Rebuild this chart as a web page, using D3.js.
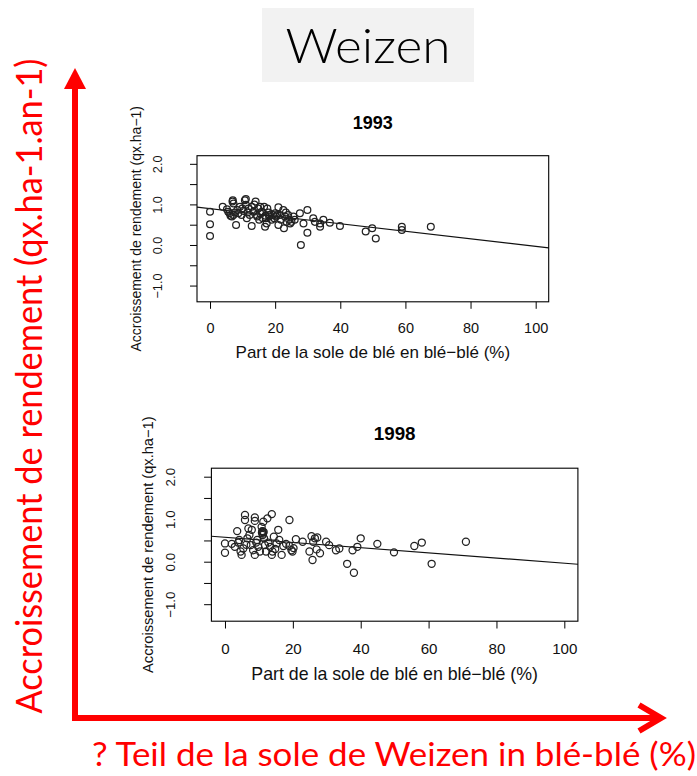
<!DOCTYPE html>
<html>
<head>
<meta charset="utf-8">
<script src="https://cdn.jsdelivr.net/npm/d3@7"></script>
<style>
  body { margin: 0; background: #fff; }
  svg { display: block; }
</style>
</head>
<body>
<div id="chart"></div>
<script>
// Points: [blé-blé share (%), yield increase]
const points1993 = [
  [0,0.82],[0,0.51],[0,0.22],
  [3.9,0.94],[5.2,0.88],[5.6,0.82],[6.0,0.78],[6.3,0.72],[6.7,0.70],[6.9,1.07],
  [7.0,1.10],[7.2,1.02],[7.2,0.74],[7.6,0.80],[8.0,0.49],[8.4,0.86],[8.7,0.78],
  [9.2,0.94],[9.7,0.74],[9.9,0.90],[10.3,0.84],[10.7,1.10],[11.0,0.99],[11.0,1.13],
  [11.3,0.66],[11.5,0.80],[11.8,0.90],[12.2,0.74],[12.8,0.94],[12.8,0.47],[13.3,0.82],
  [13.6,1.00],[14.0,1.07],[14.3,0.74],[14.5,0.70],[14.8,0.90],[15.1,0.62],[15.4,0.94],
  [15.4,0.78],[15.9,0.82],[16.2,0.66],[16.6,0.94],[16.9,0.45],[17.0,0.72],[17.2,0.66],
  [17.4,0.53],[17.6,0.90],[18.0,0.80],[18.2,0.70],[18.4,0.74],[18.9,0.62],[19.4,0.74],
  [19.7,0.66],[20.0,0.78],[20.3,0.70],[20.6,0.74],[21.0,0.49],[21.0,0.93],[21.5,0.74],
  [21.8,0.62],[22.5,0.86],[22.7,0.41],[23.0,0.70],[23.3,0.80],[23.5,0.57],[24.0,0.74],
  [24.3,0.62],[24.6,0.53],[25.0,0.57],[25.6,0.70],[26.0,0.62],[27.6,0.78],[27.9,0.0],
  [28.7,0.53],[29.9,0.86],[29.9,0.30],[31.7,0.66],[32.2,0.57],[33.8,0.53],[33.8,0.45],
  [34.8,0.62],[36.8,0.55],[39.9,0.47],[47.8,0.33],[49.8,0.41],[50.9,0.16],[58.9,0.45],
  [58.9,0.37],[67.8,0.45]
];

const points1998 = [
  [0,0.43],[0,0.21],[2,0.42],[2.9,0.35],[3.6,0.72],[3.9,0.45],[4.2,0.51],[4.6,0.24],
  [4.9,0.16],[5.4,0.31],[5.9,1.10],[5.9,0.98],[6.3,0.40],[6.6,0.55],[6.9,0.78],[7.2,0.63],
  [7.6,0.39],[7.9,0.75],[8.3,0.27],[8.8,1.04],[8.8,0.96],[8.8,0.16],[9.2,0.45],[9.5,0.51],
  [9.8,0.35],[10.3,0.24],[10.8,0.82],[10.9,0.68],[11.0,0.72],[11.1,0.71],[11.1,0.63],
  [11.2,0.66],[11.3,0.94],[11.4,0.70],[11.5,0.55],[11.8,0.39],[12.1,0.24],[12.5,1.02],
  [12.8,0.45],[13.3,0.35],[13.8,1.12],[13.8,0.16],[14.0,0.24],[14.4,0.59],[14.8,0.30],
  [15.2,0.43],[15.7,0.75],[16.0,0.51],[16.7,0.16],[17.2,0.37],[18.0,0.42],[19.0,0.98],
  [19.0,0.37],[19.6,0.27],[19.9,0.24],[20.2,0.32],[20.9,0.53],[22.9,0.47],[24.9,0.24],
  [25.5,0.60],[25.8,0.04],[26.0,0.47],[26.5,0.55],[27.0,0.29],[27.2,0.57],[28.0,0.20],
  [29.8,0.47],[30.7,0.39],[32.7,0.27],[33.7,0.31],[36.0,-0.05],[37.6,0.27],[38.0,-0.26],
  [39.0,0.35],[40.0,0.55],[44.9,0.42],[49.8,0.22],[55.8,0.37],[58.0,0.45],[60.9,-0.05],
  [71.0,0.47]
];

// Fitted regression lines: [intercept, slope]
const fit1993 = [0.895, -0.0093];
const fit1998 = [0.575, -0.0061];

const years = ["1993", "1998"];
const xTicks = [0, 20, 40, 60, 80, 100];
const yTicks = [-1.0, -0.5, 0.0, 0.5, 1.0, 1.5, 2.0];
const xDomain = [-4, 104];
const yDomain = [-1.4, 2.2];

const xLabel = "Part de la sole de blé en blé\u2212blé (%)";
const yLabel = "Accroissement de rendement (qx.ha\u22121)";
const mainTitle = "Weizen";
const bigYLabel = "Accroissement de rendement (qx.ha-1.an-1)";
const bigXLabel = "? Teil de la sole de Weizen in blé-blé (%)";

const width = 697, height = 776;
const red = "#ff0000";

const svg = d3.select("#chart")
  .append("svg")
  .attr("width", width)
  .attr("height", height);

// Title box
svg.append("rect")
  .attr("x", 262).attr("y", 8)
  .attr("width", 212).attr("height", 74)
  .attr("fill", "#f2f2f2");

svg.append("text")
  .attr("x", 368).attr("y", 63)
  .attr("text-anchor", "middle")
  .style("font-family", "Lato, 'Open Sans', sans-serif")
  .style("font-weight", 300)
  .style("font-size", "48px")
  .attr("textLength", 165)
  .attr("lengthAdjust", "spacingAndGlyphs")
  .attr("fill", "#000")
  .text(mainTitle);

// One R-style scatter panel
function drawPanel(box, k, title, points, fit) {
  const x = d3.scaleLinear().domain(xDomain).range([box.left, box.right]);
  const y = d3.scaleLinear().domain(yDomain).range([box.bottom, box.top]);
  const cx = (box.left + box.right) / 2;
  const cy = (box.top + box.bottom) / 2;
  const font = "'Liberation Sans', Arial, Helvetica, sans-serif";

  const g = svg.append("g").style("font-family", font);

  // panel title
  g.append("text")
    .attr("x", cx).attr("y", box.top - 27 * k)
    .attr("text-anchor", "middle")
    .style("font-size", 18 * k + "px")
    .style("font-weight", "bold")
    .text(title);

  // x axis
  const xa = g.append("g")
    .attr("transform", `translate(0,${box.bottom})`)
    .call(d3.axisBottom(x).tickValues(xTicks).tickSize(7 * k).tickFormat(d3.format("d")));
  xa.select(".domain").remove();
  xa.selectAll("line").attr("stroke", "#000");
  xa.selectAll("text")
    .attr("y", 31 * k).attr("dy", 0)
    .attr("fill", "#111")
    .style("font-family", font)
    .style("font-size", 14.5 * k + "px");

  // y axis, labels only on whole numbers, written along the axis
  const ya = g.append("g")
    .attr("transform", `translate(${box.left},0)`)
    .call(d3.axisLeft(y).tickValues(yTicks).tickSize(7 * k)
      .tickFormat(d => Number.isInteger(d) ? d3.format(".1f")(d) : ""));
  ya.select(".domain").remove();
  ya.selectAll("line").attr("stroke", "#000");
  ya.selectAll("text")
    .attr("x", 0).attr("dy", 0)
    .attr("transform", `translate(${-34.7 * k},0) rotate(-90)`)
    .attr("text-anchor", "middle")
    .attr("fill", "#111")
    .style("font-family", font)
    .style("font-size", 12.7 * k + "px");

  // axis titles
  g.append("text")
    .attr("x", cx).attr("y", box.bottom + 56 * k)
    .attr("text-anchor", "middle")
    .style("font-size", 17 * k + "px")
    .attr("fill", "#111")
    .text(xLabel);

  g.append("text")
    .attr("transform", `translate(${box.left - 56 * k},${cy}) rotate(-90)`)
    .attr("text-anchor", "middle")
    .style("font-size", 14 * k + "px")
    .attr("fill", "#111")
    .text(yLabel);

  // regression line
  const line = d3.line()
    .x(d => x(d))
    .y(d => y(fit[0] + fit[1] * d));

  g.append("path")
    .datum(xDomain)
    .attr("fill", "none")
    .attr("stroke", "#111")
    .attr("stroke-width", 1.2)
    .attr("d", line);

  // points
  g.selectAll(".dot")
    .data(points)
    .enter()
    .append("circle")
    .attr("cx", d => x(d[0]))
    .attr("cy", d => y(d[1]))
    .attr("r", 3.4 * k)
    .attr("fill", "none")
    .attr("stroke", "#222")
    .attr("stroke-width", 1.25);

  // frame
  g.append("rect")
    .attr("x", box.left).attr("y", box.top)
    .attr("width", box.right - box.left)
    .attr("height", box.bottom - box.top)
    .attr("fill", "none")
    .attr("stroke", "#000")
    .attr("stroke-width", 1.1);
}

drawPanel({left: 197, right: 548.7, top: 155.7, bottom: 301.8}, 1, years[0], points1993, fit1993);
drawPanel({left: 211.4, right: 577.9, top: 468.2, bottom: 621.2}, 1.045, years[1], points1998, fit1998);

// Red annotation arrows
svg.append("line")
  .attr("x1", 75).attr("y1", 719)
  .attr("x2", 75).attr("y2", 86)
  .attr("stroke", red).attr("stroke-width", 6);

svg.append("path")
  .attr("d", "M64,89 L75,68 L86,89 Z")
  .attr("fill", red);

svg.append("line")
  .attr("x1", 72).attr("y1", 718)
  .attr("x2", 660).attr("y2", 718)
  .attr("stroke", red).attr("stroke-width", 6);

svg.append("path")
  .attr("d", "M639,705 L661,718 L639,731")
  .attr("fill", "none")
  .attr("stroke", red).attr("stroke-width", 6);

// Red axis captions
svg.append("text")
  .attr("transform", "translate(42,386) rotate(-90)")
  .attr("text-anchor", "middle")
  .style("font-family", "Lato, 'Open Sans', sans-serif")
  .style("font-size", "36px")
  .attr("textLength", 655)
  .attr("lengthAdjust", "spacingAndGlyphs")
  .attr("fill", red)
  .text(bigYLabel);

svg.append("text")
  .attr("x", 394).attr("y", 766)
  .attr("text-anchor", "middle")
  .style("font-family", "Lato, 'Open Sans', sans-serif")
  .style("font-size", "33px")
  .attr("textLength", 604)
  .attr("lengthAdjust", "spacingAndGlyphs")
  .attr("fill", red)
  .text(bigXLabel);
</script>
</body>
</html>
